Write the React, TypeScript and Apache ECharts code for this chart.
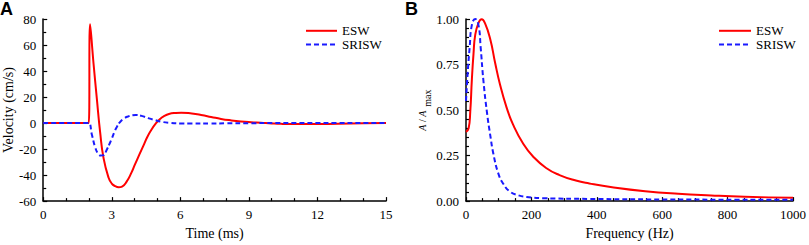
import React, { useEffect, useRef } from "react";
import * as echarts from "echarts";

// Panel A: time-domain velocity (ms, cm/s)
const eswTime: [number, number][] = [
  [0, 0], [1.9, 0], [1.99, 0], [2.05, 76], [2.2, 46], [2.35, 18], [2.49, -7], [2.64, -27],
  [2.86, -42], [3.0, -46.5], [3.15, -48.5], [3.3, -49.3], [3.45, -48.8], [3.65, -45],
  [3.85, -38.5], [4.01, -32], [4.2, -24.5], [4.38, -17.5], [4.56, -10.5], [4.74, -5],
  [4.92, -0.5], [5.1, 3], [5.3, 5.5], [5.5, 7], [5.8, 7.8], [6.04, 8], [6.5, 7.3],
  [6.91, 6.2], [7.35, 4.7], [7.78, 3.2], [8.2, 2.1], [8.65, 1.2], [9.1, 0.6],
  [9.52, 0.2], [10, -0.3], [10.4, -0.6], [11, -0.75], [11.8, -0.75], [12.9, -0.5],
  [14, -0.2], [15, 0],
];
const sriswTime: [number, number][] = [
  [0, 0], [1.9, 0], [2.0, 0], [2.13, -9], [2.28, -19], [2.4, -23.5], [2.52, -25], [2.64, -24.7],
  [2.78, -20.5], [2.9, -16], [3.0, -12], [3.11, -7], [3.22, -3], [3.35, 0.5],
  [3.51, 3.2], [3.7, 5], [3.9, 6], [4.05, 6.2], [4.3, 5.5], [4.59, 3.8], [4.9, 2.2],
  [5.17, 1], [5.5, 0.2], [6.0, -0.3], [6.5, -0.4], [7.3, -0.4], [8, -0.2], [9, -0.1],
  [10, 0], [15, 0],
];

// Panel B: normalized amplitude spectrum (Hz, A/Amax)
const eswFreq: [number, number][] = [
  [0, 0.38], [8, 0.4], [13, 0.49], [18, 0.67], [23, 0.81], [28, 0.91], [38, 0.977],
  [48, 0.998], [58, 0.977], [74, 0.89], [89, 0.76], [104, 0.64], [124, 0.515],
  [144, 0.42], [175, 0.315], [205, 0.245], [245, 0.182], [286, 0.143], [336, 0.113],
  [377, 0.097], [447, 0.076], [548, 0.054], [649, 0.04], [750, 0.031], [852, 0.024],
  [1000, 0.018],
];
const sriswFreq: [number, number][] = [
  [0, 0.55], [5, 0.7], [11, 0.84], [18, 0.968], [28, 1.0], [38, 0.968], [45, 0.84],
  [53, 0.666], [64, 0.488], [74, 0.364], [84, 0.257], [99, 0.151], [114, 0.095],
  [134, 0.053], [160, 0.032], [185, 0.023], [235, 0.016], [377, 0.012], [600, 0.009],
  [1000, 0.007],
];

const timeTicks = { min: 0, max: 15, interval: 3 };
const velTicks = { min: -60, max: 80, interval: 20 };
const freqTicks = { min: 0, max: 1000, interval: 200 };
const ampTicks = { min: 0, max: 1, interval: 0.25 };

const seriesNames = ["ESW", "SRISW"];

const FONT = "'Liberation Serif', 'Times New Roman', serif";
const RED = "#ff0000";
const BLUE = "#1a1aff";

function axisBase(minorSplit: number) {
  return {
    type: "value" as const,
    splitLine: { show: false },
    axisLine: { show: true, onZero: false, lineStyle: { color: "#000", width: 1.5 } },
    axisTick: { show: true, inside: true, length: 4, lineStyle: { color: "#000", width: 1.2 } },
    minorTick: { show: true, splitNumber: minorSplit, length: 3, lineStyle: { color: "#000", width: 1.2 } },
    minorSplitLine: { show: false },
    axisLabel: { color: "#000", fontFamily: FONT, fontSize: 13, margin: 7, formatter: (v: number) => String(v) },
    nameTextStyle: { color: "#000", fontFamily: FONT, fontSize: 14 },
    nameLocation: "middle" as const,
  };
}

export default function App() {
  const ref = useRef<HTMLDivElement>(null);
  useEffect(() => {
    if (!ref.current) return;
    const chart = echarts.init(ref.current, undefined, { renderer: "svg" });
    const lineSeries = (name: string, data: [number, number][], idx: number, dashed: boolean) => ({
      type: "line",
      name,
      data,
      xAxisIndex: idx,
      yAxisIndex: idx,
      symbol: "none",
      showSymbol: false,
      smooth: 0.5,
      lineStyle: { color: dashed ? BLUE : RED, width: 2, type: dashed ? [5, 3] : "solid" },
      itemStyle: { color: dashed ? BLUE : RED },
    });
    const legendBase = {
      data: seriesNames,
      orient: "vertical",
      top: 19,
      itemHeight: 17,
      itemGap: 0,
      itemStyle: { opacity: 0 },
      textStyle: { color: "#000", fontFamily: FONT, fontSize: 13 },
      selectedMode: false,
    };
    chart.setOption({
      animation: false,
      backgroundColor: "#fff",
      textStyle: { fontFamily: FONT },
      grid: [
        { left: 41, top: 19, width: 345, height: 187, containLabel: false },
        { left: 466, top: 19, width: 330, height: 188, containLabel: false },
      ],
      xAxis: [
        {
          ...axisBase(3),
          gridIndex: 0,
          ...timeTicks,
          name: "Time (ms)",
          nameGap: 22,
        },
        {
          ...axisBase(4),
          gridIndex: 1,
          ...freqTicks,
          name: "Frequency (Hz)",
          nameGap: 22,
        },
      ],
      yAxis: [
        {
          ...axisBase(2),
          gridIndex: 0,
          ...velTicks,
          name: "Velocity (cm/s)",
          nameGap: 26,
          nameRotate: 90,
        },
        {
          ...axisBase(5),
          gridIndex: 1,
          ...ampTicks,
          axisLabel: {
            color: "#000",
            fontFamily: FONT,
            fontSize: 13,
            margin: 7,
            formatter: (v: number) => v.toFixed(2),
          },
          name: "{i|A} / {i|A}{g| }{s|max}",
          nameGap: 31,
          nameRotate: 90,
          nameTextStyle: {
            color: "#000",
            fontFamily: FONT,
            fontSize: 10,
            rich: {
              i: { fontFamily: FONT, fontSize: 10, fontStyle: "italic", color: "#000", lineHeight: 20, verticalAlign: "middle" },
              g: { width: 4, lineHeight: 20 },
              s: { fontFamily: FONT, fontSize: 10, color: "#000", lineHeight: 20, verticalAlign: "bottom" },
            },
          },
        },
      ],
      legend: [
        { ...legendBase, left: 300, itemWidth: 31 },
        { ...legendBase, left: 713, itemWidth: 32 },
      ],
      graphic: [
        { type: "text", left: 0, top: 0, style: { text: "A", fontFamily: "'Liberation Sans', Arial, sans-serif", fontWeight: "bold", fontSize: 18, fill: "#000" } },
        { type: "text", left: 405, top: 0, style: { text: "B", fontFamily: "'Liberation Sans', Arial, sans-serif", fontWeight: "bold", fontSize: 18, fill: "#000" } },
      ],
      series: [
        lineSeries("ESW", eswTime, 0, false),
        lineSeries("SRISW", sriswTime, 0, true),
        lineSeries("ESW", eswFreq, 1, false),
        lineSeries("SRISW", sriswFreq, 1, true),
      ],
    });
    return () => chart.dispose();
  }, []);
  return (
    <div
      ref={ref}
      style={{ position: "absolute", left: 0, top: 0, width: 809, height: 245 }}
    />
  );
}
